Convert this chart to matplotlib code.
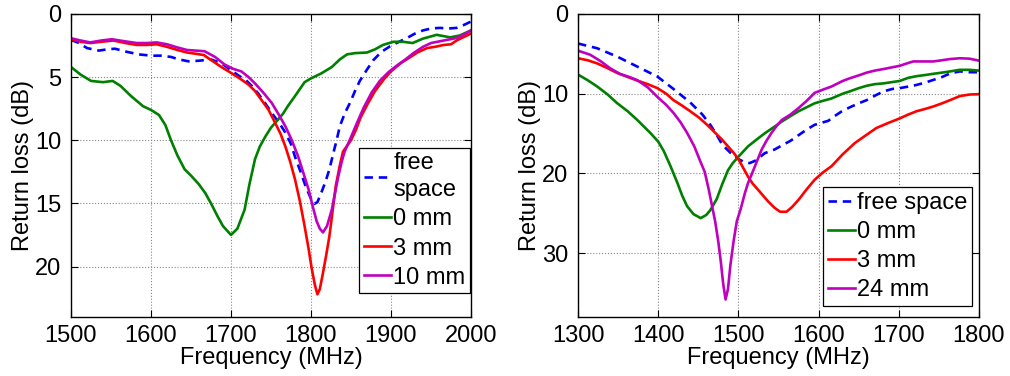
import matplotlib
matplotlib.use("Agg")
import matplotlib.pyplot as plt

plt.rcParams['font.family'] = ['Liberation Sans', 'DejaVu Sans']

# ---------------- Left panel data (MHz, dB) ----------------
L_free_f = [1500, 1510, 1520, 1535, 1545, 1555, 1570, 1585, 1600, 1612, 1625, 1635, 1647, 1660, 1675, 1688,
            1701, 1710, 1718, 1726, 1734, 1742, 1751, 1760, 1768, 1775, 1780, 1787, 1793, 1799, 1804, 1808,
            1812, 1818, 1823, 1828, 1832, 1836, 1842, 1849, 1855, 1861, 1870, 1878, 1888, 1899, 1910, 1920,
            1930, 1940, 1950, 1961, 1972, 1982, 1990, 2000]
L_free_v = [2.05, 2.3, 2.7, 2.9, 2.8, 2.75, 3.0, 3.2, 3.3, 3.3, 3.4, 3.6, 3.75, 3.7, 3.6, 3.9,
            4.5, 4.9, 5.2, 5.7, 6.3, 7.0, 7.85, 8.6, 9.4, 10.3, 11.3, 12.5, 13.6, 14.5, 15.05, 14.9,
            14.3, 13.3, 12.3, 11.0, 10.0, 8.9, 7.9, 7.0, 6.1, 5.3, 4.4, 3.65, 3.0, 2.55, 2.2, 1.9,
            1.55, 1.3, 1.15, 1.1, 1.15, 1.1, 0.9, 0.6]

L_0mm_f = [1500, 1512, 1525, 1540, 1552, 1562, 1575, 1590, 1600, 1610, 1618, 1625, 1633, 1642, 1650, 1660,
           1668, 1675, 1683, 1690, 1700, 1708, 1717, 1723, 1730, 1736, 1743, 1750, 1757, 1765, 1771, 1780,
           1792, 1800, 1813, 1826, 1836, 1845, 1855, 1870, 1880, 1890, 1903, 1915, 1927, 1940, 1957, 1974,
           1986, 2000]
L_0mm_v = [4.2, 4.8, 5.3, 5.4, 5.3, 5.7, 6.5, 7.3, 7.6, 8.0, 8.8, 10.0, 11.2, 12.3, 12.8, 13.5,
           14.2, 15.0, 16.0, 16.8, 17.5, 17.0, 15.5, 13.5, 11.5, 10.5, 9.7, 9.0, 8.5, 7.9, 7.3, 6.5,
           5.4, 5.1, 4.7, 4.2, 3.6, 3.2, 3.1, 3.05, 2.8, 2.45, 2.2, 2.2, 2.3, 1.95, 1.65, 1.85,
           1.7, 1.3]

L_3mm_f = [1500, 1512, 1524, 1538, 1553, 1568, 1582, 1595, 1607, 1620, 1633, 1645, 1656, 1666, 1674, 1688,
           1701, 1712, 1722, 1730, 1738, 1747, 1755, 1762, 1768, 1774, 1780, 1786, 1792, 1797, 1801, 1805,
           1808, 1811, 1815, 1819, 1823, 1827, 1831, 1836, 1840, 1850, 1856, 1862, 1871, 1880, 1892, 1900,
           1912, 1922, 1933, 1945, 1955, 1966, 1975, 1982, 1990, 2000]
L_3mm_v = [2.0, 2.2, 2.3, 2.2, 2.1, 2.3, 2.45, 2.45, 2.4, 2.6, 2.85, 3.05, 3.15, 3.25, 3.6, 4.2,
           4.7, 5.15, 5.6, 6.1, 6.8, 7.6, 8.6, 9.5, 10.5, 11.7, 13.1, 14.8, 16.8, 18.6, 20.2, 21.5,
           22.2, 21.8, 20.5, 19.1, 17.6, 15.6, 13.6, 12.0, 10.9, 10.0, 9.2, 8.2, 7.1, 6.1, 5.1, 4.55,
           3.9, 3.5, 3.05, 2.7, 2.6, 2.45, 2.4, 2.1, 1.85, 1.55]

L_10mm_f = [1500, 1512, 1524, 1538, 1551, 1566, 1582, 1595, 1607, 1620, 1633, 1645, 1656, 1667, 1680, 1692,
            1703, 1713, 1722, 1730, 1740, 1751, 1760, 1768, 1776, 1784, 1791, 1797, 1802, 1807, 1811, 1815,
            1820, 1826, 1830, 1834, 1838, 1842, 1849, 1857, 1866, 1876, 1886, 1897, 1907, 1918, 1928, 1940,
            1950, 1966, 1982, 1992, 2000]
L_10mm_v = [1.92, 2.1, 2.25, 2.1, 2.0, 2.15, 2.3, 2.3, 2.25, 2.4, 2.65, 2.85, 2.9, 2.95, 3.4, 4.0,
            4.35, 4.55, 5.0, 5.5, 6.2, 7.05, 8.0, 8.9, 10.0, 11.3, 12.7, 13.9, 15.2, 16.4, 17.0, 17.3,
            16.8, 15.5, 14.2, 12.9, 11.8, 10.9, 9.9, 8.7, 7.4, 6.2, 5.3, 4.6, 4.1, 3.6, 3.1, 2.6,
            2.3, 2.1, 1.9, 1.6, 1.3]

# ---------------- Right panel data (MHz, dB) ----------------
R_free_f = [1300, 1324, 1349, 1374, 1399, 1419, 1440, 1455, 1465, 1472, 1480, 1490, 1500, 1508, 1514, 1521,
            1533, 1545, 1554, 1565, 1575, 1585, 1595, 1605, 1612, 1620, 1629, 1639, 1650, 1660, 1671, 1681,
            1692, 1701, 1712, 1722, 1733, 1743, 1754, 1764, 1776, 1788, 1800]
R_free_v = [3.7, 4.3, 5.35, 6.6, 7.85, 9.4, 11.1, 12.6, 13.9, 15.0, 16.4, 17.4, 18.2, 18.6, 18.7, 18.4,
            17.45, 17.0, 16.5, 15.9, 15.2, 14.5, 13.9, 13.6, 13.4, 12.8, 12.2, 11.7, 11.2, 10.8, 10.2, 9.7,
            9.4, 9.3, 9.1, 8.9, 8.6, 8.27, 7.9, 7.45, 7.2, 7.3, 7.3]

R_0mm_f = [1300, 1312, 1324, 1337, 1349, 1362, 1374, 1390, 1400, 1407, 1415, 1424, 1430, 1436, 1444, 1453,
           1460, 1465, 1473, 1480, 1487, 1493, 1500, 1512, 1522, 1533, 1544, 1554, 1565, 1575, 1585, 1595,
           1605, 1616, 1630, 1639, 1650, 1660, 1670, 1681, 1691, 1701, 1712, 1722, 1733, 1743, 1754, 1764,
           1776, 1788, 1800]
R_0mm_v = [7.6, 8.3, 9.1, 10.1, 11.2, 12.2, 13.3, 14.9, 16.0, 17.2, 19.0, 21.2, 22.8, 24.1, 25.1, 25.6,
           25.2, 24.6, 23.2, 21.3, 19.6, 18.7, 17.9, 16.6, 15.8, 14.95, 14.2, 13.5, 12.8, 12.2, 11.7, 11.2,
           10.9, 10.6, 10.0, 9.7, 9.3, 9.0, 8.8, 8.7, 8.55, 8.4, 8.0, 7.8, 7.65, 7.5, 7.35, 7.2,
           7.0, 7.0, 7.1]

R_3mm_f = [1300, 1312, 1324, 1337, 1349, 1362, 1374, 1387, 1399, 1410, 1419, 1430, 1440, 1451, 1461, 1471,
           1480, 1487, 1494, 1500, 1506, 1512, 1518, 1525, 1531, 1537, 1545, 1552, 1560, 1567, 1575, 1585,
           1595, 1605, 1616, 1630, 1645, 1652, 1662, 1672, 1686, 1701, 1712, 1722, 1733, 1743, 1754, 1764,
           1776, 1788, 1800]
R_3mm_v = [5.55, 5.8, 6.2, 6.8, 7.4, 7.9, 8.35, 8.8, 9.3, 10.0, 10.8, 11.5, 12.2, 13.0, 13.9, 14.9,
           15.8, 16.6, 17.4, 18.2, 19.3, 20.4, 21.3, 22.1, 22.8, 23.5, 24.3, 24.8, 24.8, 24.2, 23.3, 22.0,
           20.8, 19.9, 19.1, 17.6, 16.2, 15.7, 15.0, 14.3, 13.7, 13.1, 12.6, 12.2, 11.9, 11.6, 11.2, 10.8,
           10.3, 10.1, 10.05]

R_24mm_f = [1300, 1315, 1328, 1340, 1352, 1364, 1374, 1387, 1399, 1410, 1419, 1428, 1436, 1445, 1453, 1458,
            1463, 1467, 1471, 1475, 1478, 1481, 1484, 1487, 1490, 1494, 1498, 1503, 1508, 1512, 1517, 1523,
            1529, 1535, 1541, 1548, 1554, 1565, 1575, 1585, 1595, 1605, 1616, 1630, 1639, 1650, 1660, 1670,
            1681, 1691, 1701, 1710, 1718, 1730, 1743, 1754, 1764, 1776, 1788, 1800]
R_24mm_v = [4.6, 5.1, 5.9, 6.8, 7.5, 7.9, 8.3, 9.2, 10.4, 11.4, 12.4, 13.6, 14.9, 16.6, 18.6, 19.8,
            22.0, 24.0, 26.0, 28.6, 31.0, 33.8, 35.8, 34.5, 31.5, 28.5, 26.0, 24.4, 22.5, 21.2, 20.0, 18.5,
            17.0, 15.9, 14.95, 14.0, 13.3, 12.6, 11.8, 10.9, 9.9, 9.5, 9.1, 8.4, 8.06, 7.7, 7.35, 7.1,
            6.9, 6.7, 6.5, 6.2, 5.95, 5.95, 5.95, 5.8, 5.65, 5.55, 5.6, 5.85]

L_labels = ['free\nspace', '0 mm', '3 mm', '10 mm']
R_labels = ['free space', '0 mm', '3 mm', '24 mm']
L_xticks = [1500, 1600, 1700, 1800, 1900, 2000]
L_yticks = [0, 5, 10, 15, 20]
R_xticks = [1300, 1400, 1500, 1600, 1700, 1800]
R_yticks = [0, 10, 20, 30]

C_BLUE, C_GREEN, C_RED, C_MAG = '#0000ff', '#008000', '#ff0000', '#bf00bf'
FS = 17
LW = 1.9

fig = plt.figure(figsize=(10.1, 3.76), dpi=100)
axL = fig.add_axes([71 / 1010, 1 - 317 / 376, 400 / 1010, 303 / 376])
axR = fig.add_axes([578 / 1010, 1 - 317 / 376, 401 / 1010, 303 / 376])


def style(ax, xlim, ylim, xt, yt):
    ax.set_xlim(*xlim)
    ax.set_ylim(ylim[1], ylim[0])
    ax.set_xticks(xt)
    ax.set_yticks(yt)
    ax.tick_params(direction='in', top=True, right=True, length=5, width=0.8,
                   labelsize=FS, pad=7)
    ax.tick_params(axis='x', pad=6)
    ax.grid(True, linestyle=':', color='#888888', linewidth=0.8)
    ax.set_axisbelow(True)
    for s in ax.spines.values():
        s.set_linewidth(1.0)
    ax.set_xlabel('Frequency (MHz)', fontsize=FS, labelpad=0)
    ax.set_ylabel('Return loss (dB)', fontsize=FS, labelpad=1)


dash = (0, (3.2, 2.2))
axL.plot(L_free_f, L_free_v, color=C_BLUE, lw=LW, linestyle=dash, label=L_labels[0])
axL.plot(L_0mm_f, L_0mm_v, color=C_GREEN, lw=LW, label=L_labels[1])
axL.plot(L_3mm_f, L_3mm_v, color=C_RED, lw=LW, label=L_labels[2])
axL.plot(L_10mm_f, L_10mm_v, color=C_MAG, lw=LW, label=L_labels[3])
style(axL, (1500, 2000), (0, 24), L_xticks, L_yticks)

axR.plot(R_free_f, R_free_v, color=C_BLUE, lw=LW, linestyle=dash, label=R_labels[0])
axR.plot(R_0mm_f, R_0mm_v, color=C_GREEN, lw=LW, label=R_labels[1])
axR.plot(R_3mm_f, R_3mm_v, color=C_RED, lw=LW, label=R_labels[2])
axR.plot(R_24mm_f, R_24mm_v, color=C_MAG, lw=LW, label=R_labels[3])
style(axR, (1300, 1800), (0, 38), R_xticks, R_yticks)

leg_kw = dict(fontsize=FS, frameon=True, fancybox=False, framealpha=1, edgecolor='black',
              borderaxespad=0, borderpad=0.2, handlelength=1.15, handletextpad=0.1,
              labelspacing=0.3, loc='lower right')
lg = axL.legend(bbox_to_anchor=(0.9975, 0.078), **leg_kw)
lg.get_frame().set_linewidth(0.9)
for t in lg.get_texts():
    t.set_linespacing(1.3)
lg = axR.legend(bbox_to_anchor=(0.983, 0.037), **leg_kw)
lg.get_frame().set_linewidth(0.9)

fig.savefig('out.png', dpi=100)
